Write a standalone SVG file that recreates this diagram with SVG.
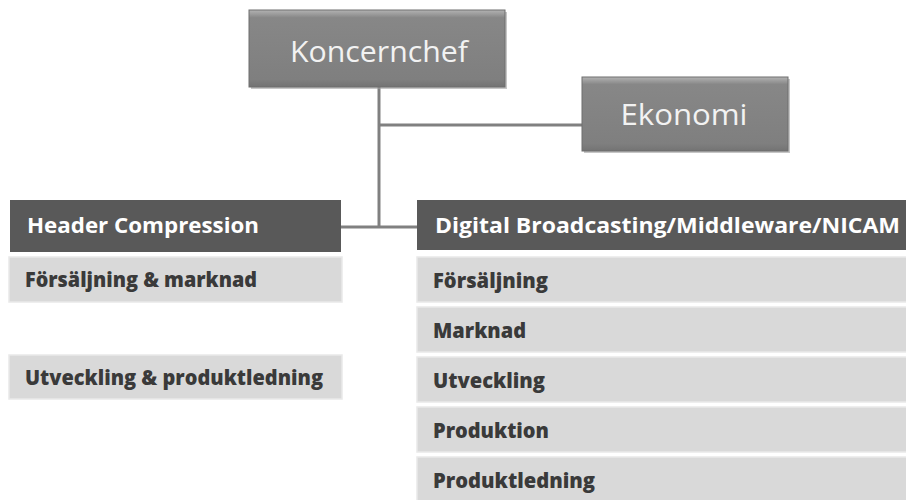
<svg xmlns="http://www.w3.org/2000/svg" width="906" height="500" viewBox="0 0 906 500">
<style>
.top{fill:url(#bev);stroke:#6e6e6e;stroke-width:1}
.shadow{fill:#a0a0a0;opacity:0.6}
.toptxt{font-family:"Open Sans","Liberation Sans",sans-serif;font-size:30px;fill:#f2f2f2;text-anchor:middle}
.hdr{fill:#595959}
.hdrtxt{font-family:"Open Sans","Liberation Sans",sans-serif;font-weight:700;font-size:21px;fill:#ffffff}
.sub{fill:#d9d9d9;stroke:#e9e9e9;stroke-width:1.5}
.subtxt{font-family:"Open Sans","Liberation Sans",sans-serif;font-weight:800;font-size:21px;fill:#3a3a3a}
.conn{stroke:#808080;stroke-width:3;fill:none}
</style>
<defs>
<linearGradient id="bev" x1="0" y1="0" x2="0" y2="1">
<stop offset="0" stop-color="#b3b3b3"/>
<stop offset="0.1" stop-color="#878787"/>
<stop offset="0.9" stop-color="#7f7f7f"/>
<stop offset="1" stop-color="#737373"/>
</linearGradient>
</defs>
<rect width="906" height="500" fill="#ffffff"/>
<g id="connectors">
<line class="conn" x1="379" y1="87" x2="379" y2="228"/>
<line class="conn" x1="379" y1="125" x2="583" y2="125"/>
<line class="conn" x1="341" y1="227" x2="417" y2="227"/>
</g>
<g id="koncernchef">
<rect class="shadow" x="251" y="12" width="256" height="77"/>
<rect class="top" x="249" y="10" width="256" height="77"/>
<text class="toptxt" x="379" y="62" textLength="178" lengthAdjust="spacingAndGlyphs">Koncernchef</text>
</g>
<g id="ekonomi">
<rect class="shadow" x="584" y="79" width="206" height="74"/>
<rect class="top" x="582" y="77" width="206" height="74"/>
<text class="toptxt" x="684" y="125" textLength="127" lengthAdjust="spacingAndGlyphs">Ekonomi</text>
</g>
<g id="header-compression">
<rect class="hdr" x="10" y="200" width="331" height="52"/>
<text class="hdrtxt" x="27" y="233" textLength="232" lengthAdjust="spacingAndGlyphs">Header Compression</text>
</g>
<g id="hc-forsaljning">
<rect class="sub" x="9" y="257" width="333" height="45"/>
<text class="subtxt" x="25" y="287" textLength="232" lengthAdjust="spacingAndGlyphs">Försäljning &amp; marknad</text>
</g>
<g id="hc-utveckling">
<rect class="sub" x="9" y="355" width="333" height="44"/>
<text class="subtxt" x="25" y="385" textLength="298" lengthAdjust="spacingAndGlyphs">Utveckling &amp; produktledning</text>
</g>
<g id="digital">
<rect class="hdr" x="417" y="200" width="489" height="50"/>
<text class="hdrtxt" x="435" y="233" textLength="465" lengthAdjust="spacingAndGlyphs">Digital Broadcasting/Middleware/NICAM</text>
</g>
<g id="db-forsaljning">
<rect class="sub" x="417" y="257" width="492" height="45"/>
<text class="subtxt" x="433" y="288" textLength="115" lengthAdjust="spacingAndGlyphs">Försäljning</text>
</g>
<g id="db-marknad">
<rect class="sub" x="417" y="307" width="492" height="45"/>
<text class="subtxt" x="433" y="338" textLength="93" lengthAdjust="spacingAndGlyphs">Marknad</text>
</g>
<g id="db-utveckling">
<rect class="sub" x="417" y="357" width="492" height="45"/>
<text class="subtxt" x="433" y="388" textLength="112" lengthAdjust="spacingAndGlyphs">Utveckling</text>
</g>
<g id="db-produktion">
<rect class="sub" x="417" y="407" width="492" height="45"/>
<text class="subtxt" x="433" y="438" textLength="116" lengthAdjust="spacingAndGlyphs">Produktion</text>
</g>
<g id="db-produktledning">
<rect class="sub" x="417" y="457" width="492" height="45"/>
<text class="subtxt" x="433" y="488" textLength="162" lengthAdjust="spacingAndGlyphs">Produktledning</text>
</g>
</svg>
